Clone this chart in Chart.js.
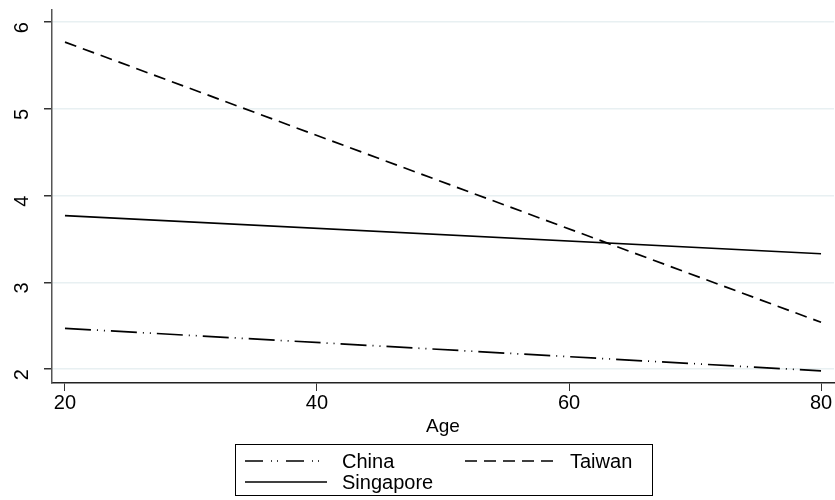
<!DOCTYPE html>
<html>
<head>
<meta charset="utf-8">
<script src="https://cdn.jsdelivr.net/npm/chart.js@4/dist/chart.umd.min.js"></script>
<style>
  html, body { margin: 0; padding: 0; background: #fff; }
  #wrap { width: 835px; height: 500px; }
</style>
</head>
<body>
<div id="wrap"><canvas id="chart" width="835" height="500"></canvas></div>
<script>
// data
const ages = [20, 80];
const china = [2.47, 1.98];
const taiwan = [5.77, 2.54];
const singapore = [3.77, 3.33];
const xTicks = [20, 40, 60, 80];
const yTicks = [2, 3, 4, 5, 6];

const font = "'Liberation Sans', Arial, sans-serif";

function pts(ys) {
  return ages.map((a, i) => ({ x: a, y: ys[i] }));
}

// legend drawn inside the box under the axis title
const boxLegend = {
  id: "boxLegend",
  afterDraw(chart) {
    const ctx = chart.ctx;
    const left = 235, top = 444, w = 417, h = 51;
    ctx.save();
    ctx.strokeStyle = "#000";
    ctx.lineWidth = 1;
    ctx.strokeRect(left + 0.5, top + 0.5, w, h);
    const slots = [
      { x: 245, y: 461, tx: 342 },
      { x: 465, y: 461, tx: 570 },
      { x: 245, y: 482, tx: 342 },
    ];
    chart.data.datasets.forEach((ds, k) => {
      const s = slots[k];
      ctx.beginPath();
      ctx.setLineDash(ds.legendDash || ds.borderDash || []);
      ctx.lineWidth = ds.borderWidth;
      ctx.strokeStyle = ds.borderColor;
      ctx.moveTo(s.x, s.y);
      ctx.lineTo(s.x + (k === 1 ? 93 : 82), s.y);
      ctx.stroke();
      ctx.setLineDash([]);
      ctx.fillStyle = "#000";
      ctx.font = "20px " + font;
      ctx.textBaseline = "middle";
      ctx.fillText(ds.label, s.tx, s.y + 1);
    });
    ctx.restore();
  },
};

new Chart(document.getElementById("chart"), {
  type: "line",
  data: {
    datasets: [
      {
        label: "China",
        data: pts(china),
        borderColor: "#000",
        borderWidth: 1.7,
        borderDash: [26, 6, 1, 6, 1, 6],
        legendDash: [18, 8, 1, 5, 1, 8],
        pointRadius: 0,
      },
      {
        label: "Taiwan",
        data: pts(taiwan),
        borderColor: "#000",
        borderWidth: 1.7,
        borderDash: [12, 7],
        pointRadius: 0,
      },
      {
        label: "Singapore",
        data: pts(singapore),
        borderColor: "#000",
        borderWidth: 1.7,
        pointRadius: 0,
      },
    ],
  },
  options: {
    responsive: false,
    animation: false,
    layout: { padding: { top: 10, right: 1, bottom: 60 } },
    plugins: {
      legend: { display: false },
      tooltip: { enabled: false },
    },
    scales: {
      x: {
        type: "linear",
        min: 18.97,
        max: 81.03,
        afterBuildTicks: (s) => { s.ticks = xTicks.map((v) => ({ value: v })); },
        afterFit: (s) => { s.height = 57; },
        grid: { drawOnChartArea: false, tickLength: 8, tickColor: "#333", lineWidth: 1 },
        border: { color: "#222", width: 1.5 },
        ticks: { color: "#000", font: { family: font, size: 20 }, padding: 0, maxRotation: 0 },
        title: {
          display: true,
          text: "Age",
          color: "#000",
          font: { family: font, size: 19 },
          padding: { top: 0, bottom: 2 },
        },
      },
      y: {
        min: 1.84,
        max: 6.14,
        afterBuildTicks: (s) => { s.ticks = yTicks.map((v) => ({ value: v })); },
        afterFit: (s) => { s.width = 52; s.paddingTop = 0; s.paddingBottom = 0; },
        grid: { color: "#e8f0f2", tickColor: "#333", tickLength: 8, lineWidth: 1.5 },
        border: { color: "#555", width: 1.5 },
        ticks: {
          color: "#000",
          font: { family: font, size: 20 },
          minRotation: 90,
          maxRotation: 90,
          padding: 22,
        },
      },
    },
  },
  plugins: [boxLegend],
});
</script>
</body>
</html>
